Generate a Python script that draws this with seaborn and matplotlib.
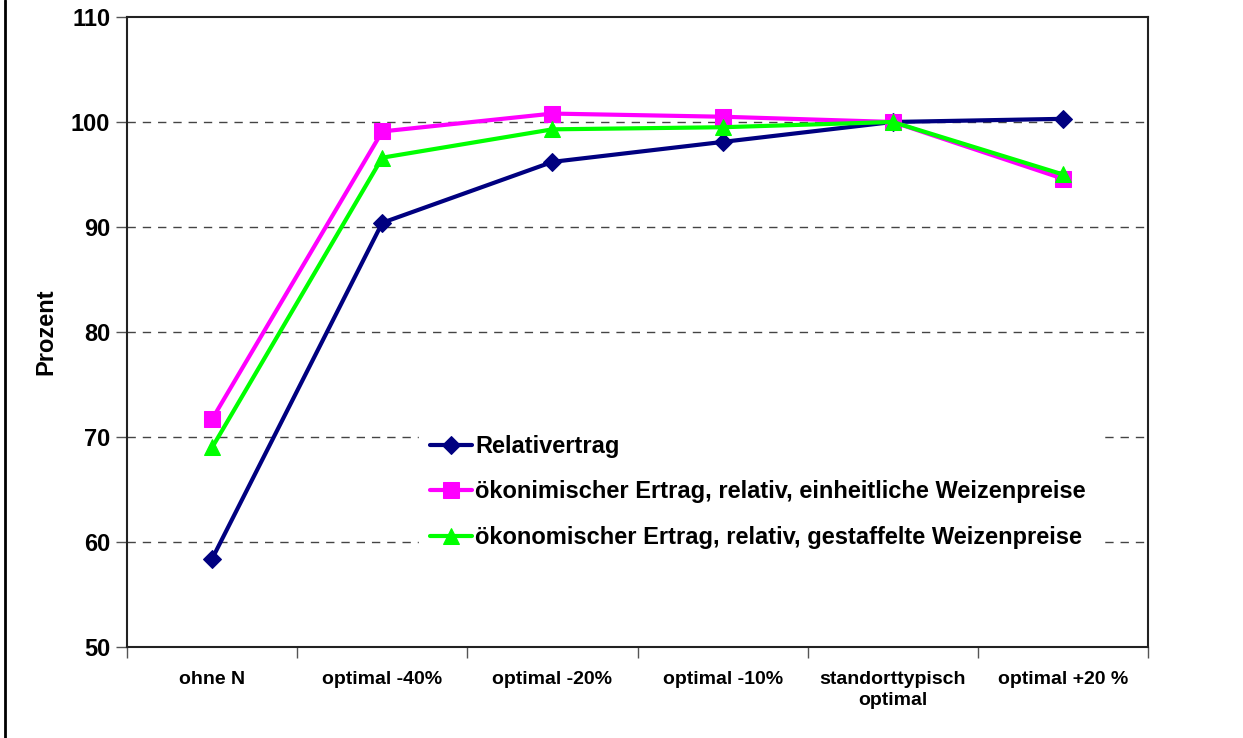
import pandas as pd
import matplotlib.pyplot as plt
import seaborn as sns

# categories on the x axis
stufen = ['ohne N', 'optimal -40%', 'optimal -20%', 'optimal -10%',
          'standorttypisch\noptimal', 'optimal +20 %']

# values (Prozent)
relativertrag = [58.4, 90.4, 96.2, 98.1, 100.0, 100.3]
oek_einheitlich = [71.7, 99.1, 100.8, 100.5, 100.0, 94.6]
oek_gestaffelt = [69.0, 96.6, 99.3, 99.5, 100.0, 95.0]

labels = ['Relativertrag',
          'ökonimischer Ertrag, relativ, einheitliche Weizenpreise',
          'ökonomischer Ertrag, relativ, gestaffelte Weizenpreise']

rows = []
for lab, vals in zip(labels, [relativertrag, oek_einheitlich, oek_gestaffelt]):
    for i, v in enumerate(vals):
        rows.append({'pos': i, 'wert': v, 'reihe': lab})
df = pd.DataFrame(rows)

sns.set_style('white')
plt.rcParams['font.family'] = ['Liberation Sans', 'DejaVu Sans']
plt.rcParams['font.weight'] = 'bold'
plt.rcParams['text.color'] = 'black'
plt.rcParams['axes.labelcolor'] = 'black'
plt.rcParams['xtick.color'] = 'black'
plt.rcParams['ytick.color'] = 'black'

fig = plt.figure(figsize=(12.43, 7.38), dpi=100)
ax = fig.add_axes([0.1022, 0.1233, 0.8214, 0.8537])

colors = ['#000080', '#FF00FF', '#00FF00']
markers = ['D', 's', '^']
sizes = [9, 11, 12]
for lab, c, m, ms in zip(labels, colors, markers, sizes):
    sub = df[df['reihe'] == lab]
    sns.lineplot(data=sub, x='pos', y='wert', color=c, marker=m, markersize=ms,
                 markeredgecolor=c, linewidth=3, label=lab, ax=ax, zorder=3)

ax.set_xlim(-0.5, 5.5)
ax.set_ylim(50, 110)
ax.set_yticks(range(50, 111, 10))
ax.set_xticks([i - 0.5 for i in range(7)])
ax.set_xticklabels([])
ax.set_xticks(range(6), minor=True)
ax.set_xticklabels(stufen, minor=True, fontsize=14, fontweight='bold', linespacing=1.3)
ax.tick_params(axis='x', which='major', direction='out', length=8, width=1, color='#555555', bottom=True)
ax.tick_params(axis='x', which='minor', length=0, pad=17)
ax.tick_params(axis='y', direction='out', length=8, width=1, color='#555555', left=True, labelsize=17, pad=4)
for t in ax.get_yticklabels():
    t.set_fontweight('bold')

for y in range(60, 101, 10):
    ax.axhline(y, color='#444444', linestyle=(0, (6, 5)), linewidth=1, zorder=1)

for s in ax.spines.values():
    s.set_color('#222222')
    s.set_linewidth(1.5)

ax.set_xlabel('')
ax.set_ylabel('Prozent', fontsize=17, fontweight='bold', labelpad=10)

leg = ax.legend(loc='upper left', bbox_to_anchor=(0.274, 0.374), frameon=True,
                fontsize=17, handlelength=1.75, handletextpad=0.15, labelspacing=0.95,
                borderpad=0.5, fancybox=False)
leg.get_frame().set_edgecolor('white')
leg.get_frame().set_facecolor('white')
leg.get_frame().set_alpha(1)
leg.set_zorder(5)
for t in leg.get_texts():
    t.set_fontweight('bold')

# outer border line on the left
fig.add_artist(plt.Line2D([0.004, 0.004], [0, 1], color='black', linewidth=2, transform=fig.transFigure))

plt.savefig('out.png', dpi=100)
